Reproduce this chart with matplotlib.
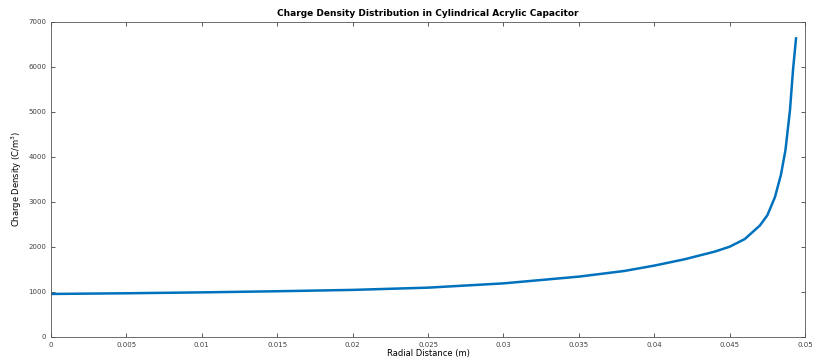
import numpy as np
import matplotlib
matplotlib.use("Agg")
import matplotlib.pyplot as plt

# values
radius = [0, 0.005, 0.01, 0.015, 0.02, 0.025, 0.03, 0.035, 0.038, 0.04, 0.042,
          0.044, 0.045, 0.046, 0.047, 0.0475, 0.048, 0.0484, 0.0487, 0.049, 0.0492, 0.0494]
density = [950, 965, 985, 1010, 1040, 1090, 1185, 1335, 1460, 1580, 1720,
           1890, 2000, 2170, 2470, 2700, 3100, 3600, 4150, 5040, 5930, 6630]
x_ticks = [0, 0.005, 0.01, 0.015, 0.02, 0.025, 0.03, 0.035, 0.04, 0.045, 0.05]
x_labels = ['0', '0.005', '0.01', '0.015', '0.02', '0.025', '0.03', '0.035', '0.04', '0.045', '0.05']
y_ticks = [0, 1000, 2000, 3000, 4000, 5000, 6000, 7000]

fig = plt.figure(figsize=(8.19, 3.63), dpi=100)
ax = fig.add_axes([0.0623, 0.0725, 0.9207, 0.8675])
ax.plot(radius, density, color='#0072BD', linewidth=1.8)

ax.set_xlim(0, 0.05)
ax.set_ylim(0, 7000)
ax.set_xticks(x_ticks)
ax.set_xticklabels(x_labels)
ax.set_yticks(y_ticks)
ax.tick_params(direction='in', top=True, right=True, labelsize=5, length=3,
               colors='#404040', width=0.6)
for s in ax.spines.values():
    s.set_color('#555555')
    s.set_linewidth(0.6)

ax.set_xlabel('Radial Distance (m)', fontsize=6, labelpad=1)
ax.set_ylabel('Charge Density (C/m$^3$)', fontsize=6, labelpad=3)
ax.set_title('Charge Density Distribution in Cylindrical Acrylic Capacitor',
             fontsize=6.5, fontweight='bold', pad=4)

plt.savefig("out.png", dpi=100)
